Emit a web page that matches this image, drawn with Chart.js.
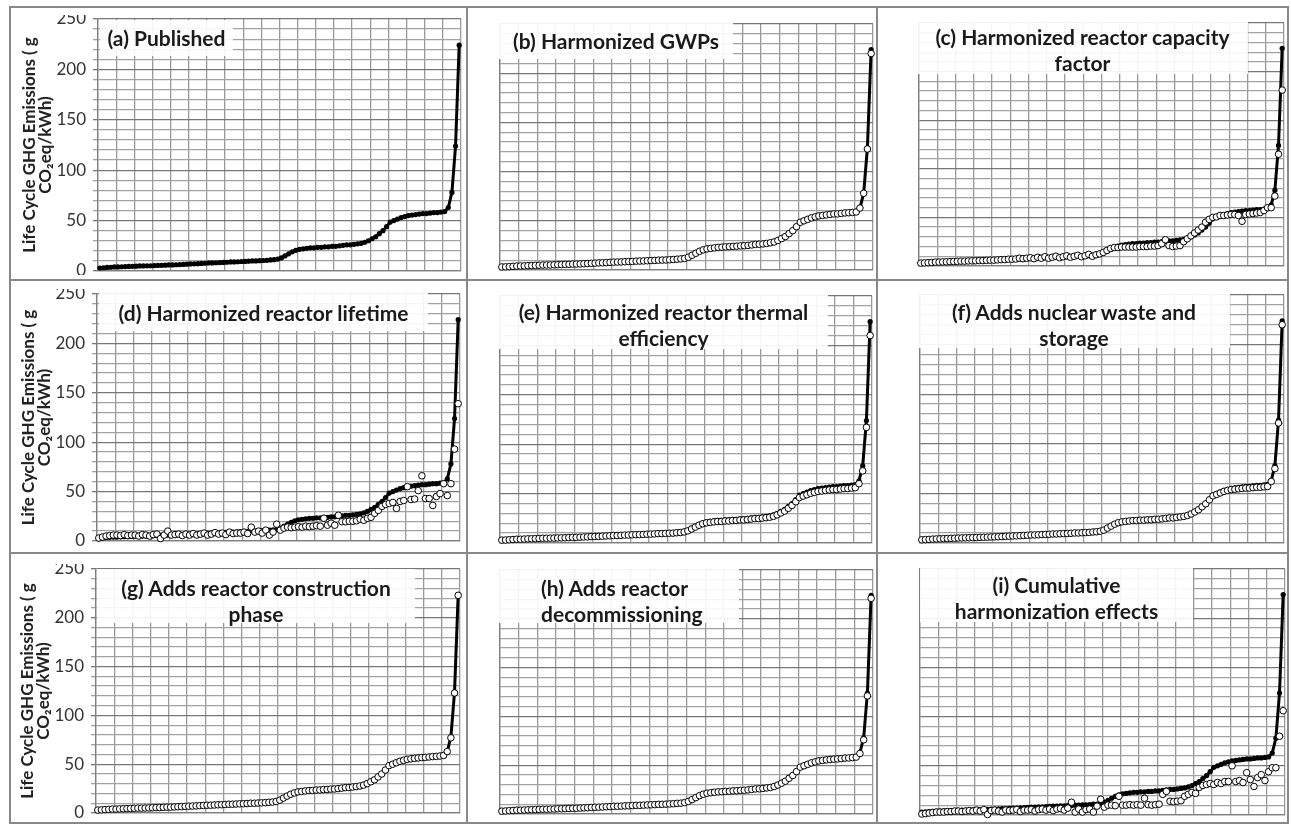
<!DOCTYPE html>
<html>
<head>
<meta charset="utf-8">
<script src="https://cdn.jsdelivr.net/npm/chart.js@4.4.1/dist/chart.umd.min.js"></script>
<style>
    body { margin: 0; background: #fff; width: 1291px; height: 827px; position: relative; overflow: hidden; }
    .panel { position: absolute; }
    .rule { position: absolute; background: #888; }
    .tbox {
        position: absolute; background: rgba(255, 255, 255, 0.9); color: #1a1a1a;
        font: bold 21px Lato, 'Open Sans', sans-serif; line-height: 26px;
        text-align: center; white-space: nowrap; box-sizing: border-box;
    }
</style>
</head>
<body>
<script>
// --- Data ---
const studyRank = Array.from({ length: 100 }, (_, i) => i + 1);
const yTickLabels = [0, 50, 100, 150, 200, 250];

const published = [
    3, 3.2, 3.5, 3.7, 4, 4, 4.2, 4.4, 4.5, 4.6,
    4.8, 5, 5, 5.1, 5.2, 5.4, 5.5, 5.6, 5.8, 6,
    6, 6.2, 6.4, 6.5, 6.8, 7, 7.1, 7.3, 7.5, 7.7,
    8, 8, 8.2, 8.4, 8.5, 8.7, 9, 9, 9.2, 9.4,
    9.5, 9.7, 10, 10, 10.2, 10.4, 10.6, 11, 11.2, 11.8,
    13, 15, 17, 19, 20.5, 21.5, 22, 22.5, 23, 23,
    23.5, 23.5, 24, 24, 24.5, 24.5, 25, 25.5, 26, 26,
    26.5, 27, 27.5, 28.5, 30, 32, 34, 37, 40, 44,
    48.5, 50, 51.5, 53, 54, 55, 55.5, 56, 56.5, 57,
    57, 57.5, 58, 58, 58.5, 59, 63, 78, 124, 224
];
const harmGWP = [
    3.1, 3.2, 3.4, 3.7, 4, 4.1, 4.2, 4.4, 4.5, 4.7,
    4.8, 5, 5.1, 5.1, 5.3, 5.4, 5.5, 5.7, 5.8, 6,
    6.1, 6.2, 6.4, 6.6, 6.8, 7, 7.2, 7.3, 7.5, 7.8,
    8, 8.1, 8.2, 8.4, 8.6, 8.7, 9, 9.1, 9.2, 9.4,
    9.6, 9.7, 10, 10.1, 10.2, 10.4, 10.7, 11, 11.3, 11.8,
    13, 15, 17, 19, 20.5, 21.5, 22, 22.5, 23, 23.2,
    23.5, 23.7, 24, 24.2, 24.5, 24.7, 25, 25.5, 26, 26.2,
    26.5, 27, 27.7, 28.5, 30, 32, 34, 37, 40, 44,
    48.5, 50, 51.5, 53, 54, 55, 55.5, 56, 56.5, 57,
    57, 57.5, 58, 58.2, 58.5, 59, 63, 78, 123, 220
];
const harmCapacity = [
    3, 3.2, 3.4, 3.6, 4, 4, 4.2, 4.3, 4.5, 4.6,
    4.8, 5, 5, 5.2, 5.3, 5.4, 5.6, 5.6, 5.8, 6,
    6, 6.3, 6.5, 6.6, 7, 7, 7.2, 8, 7.5, 8,
    8.5, 7.5, 9, 8, 9.5, 8, 9, 10, 8.5, 9.5,
    10.5, 9, 10, 11, 9.5, 10.5, 12, 10, 11.5, 12.5,
    14, 16, 18, 19, 19, 19.5, 19.5, 19.5, 19.5, 19.5,
    20, 20, 20, 20.5, 20.5, 21, 23, 27, 21, 20,
    20.5, 21, 25, 28, 31, 34, 37, 40, 45, 48,
    50, 50.5, 52, 52, 52.5, 53, 53, 52, 46, 53,
    53.5, 54, 54.5, 55, 57, 60, 60, 72, 115, 181
];
const harmLifetime = [
    3, 4, 5, 5.5, 6, 6, 5.5, 6.5, 5.5, 6,
    6, 5, 6.5, 6, 5, 6.5, 7, 2.5, 6, 10,
    6, 6.5, 7, 5.5, 7, 6, 7.5, 6, 7, 8,
    6, 7, 8.5, 7, 8, 6.5, 9, 7.5, 8, 8,
    9, 7.5, 14, 9, 10, 8, 11, 6, 9, 17,
    11, 13, 14, 13.5, 14, 14.5, 14, 15, 14.5, 15,
    15.5, 15, 23, 16, 18, 16, 26, 19.5, 19.5, 20,
    20, 20.5, 22, 21, 23, 24, 28, 31, 35, 37,
    38, 39, 33, 40, 41, 55, 42, 42.5, 51, 66,
    43, 43, 36, 45, 48, 58, 46, 58, 93, 139
];
const harmThermal = [
    2.9, 3, 3.3, 3.5, 3.8, 3.8, 4, 4.2, 4.3, 4.4,
    4.6, 4.8, 4.8, 4.9, 5, 5.1, 5.2, 5.3, 5.5, 5.7,
    5.7, 5.9, 6.1, 6.2, 6.5, 6.6, 6.7, 6.9, 7.1, 7.3,
    7.6, 7.6, 7.8, 8, 8.1, 8.3, 8.5, 8.5, 8.7, 8.9,
    9, 9.2, 9.5, 9.5, 9.7, 9.9, 10, 10.4, 10.6, 11.2,
    12.3, 14.2, 16.1, 18, 19.5, 20.4, 20.9, 21.4, 21.8, 21.8,
    22.3, 22.3, 22.8, 22.8, 23.3, 23.3, 23.7, 24.2, 24.7, 24.7,
    25.2, 25.6, 26.1, 27, 28.5, 30.4, 32.3, 35.1, 38, 41.8,
    46, 47.5, 48.9, 50.3, 51.3, 52.2, 52.7, 53.2, 53.7, 54.1,
    54.1, 54.6, 55.1, 55.1, 55.6, 56, 60, 73, 117, 210
];
const harmWaste = [
    3.2, 3.4, 3.6, 3.9, 4.1, 4.2, 4.4, 4.5, 4.7, 4.8,
    5, 5.1, 5.2, 5.3, 5.4, 5.5, 5.7, 5.8, 5.9, 6.1,
    6.2, 6.3, 6.5, 6.7, 6.9, 7.1, 7.2, 7.4, 7.6, 7.8,
    8.1, 8.1, 8.3, 8.5, 8.6, 8.8, 9.1, 9.1, 9.3, 9.5,
    9.6, 9.8, 10.1, 10.1, 10.3, 10.5, 10.7, 11.1, 11.3, 11.9,
    13, 15, 17, 19, 20.5, 21.3, 21.8, 22.2, 22.6, 22.6,
    23, 23, 23.4, 23.4, 23.9, 23.9, 24.3, 24.8, 25.3, 25.3,
    25.8, 26.3, 26.8, 27.8, 29.3, 31.3, 33.5, 36.5, 39.5, 43.5,
    47.5, 49, 50.5, 52, 53, 53.8, 54.2, 54.6, 55, 55.4,
    55.4, 55.8, 56.2, 56.2, 56.6, 57, 62, 75, 121, 220
];
const harmConstruction = [
    3, 3.2, 3.5, 3.7, 4, 4, 4.2, 4.4, 4.5, 4.6,
    4.8, 5, 5, 5.1, 5.2, 5.4, 5.5, 5.6, 5.8, 6,
    6, 6.2, 6.4, 6.5, 6.8, 7, 7.1, 7.3, 7.5, 7.7,
    8, 8, 8.2, 8.4, 8.5, 8.7, 9, 9, 9.2, 9.4,
    9.5, 9.7, 10, 10, 10.2, 10.4, 10.6, 11, 11.2, 11.8,
    13.2, 15.3, 17.3, 19.2, 20.6, 21.6, 22.1, 22.6, 23, 23.1,
    23.5, 23.6, 24, 24.1, 24.5, 24.6, 25, 25.5, 26, 26.1,
    26.6, 27.1, 27.7, 28.6, 30.1, 32, 34, 37, 40, 44,
    48.5, 50, 51.5, 53, 54, 55, 55.5, 56, 56.4, 56.8,
    57, 57.4, 57.8, 58, 58.4, 59, 63, 77, 123, 223
];
const harmDecommission = [
    2.9, 3.1, 3.4, 3.6, 3.9, 3.9, 4.1, 4.3, 4.4, 4.5,
    4.7, 4.9, 4.9, 5, 5.1, 5.3, 5.4, 5.5, 5.7, 5.9,
    5.9, 6.1, 6.3, 6.4, 6.7, 6.9, 7, 7.2, 7.4, 7.6,
    7.9, 7.9, 8.1, 8.3, 8.4, 8.6, 8.9, 8.9, 9.1, 9.3,
    9.4, 9.6, 9.9, 9.9, 10.1, 10.3, 10.5, 10.9, 11.1, 11.7,
    12.9, 14.8, 16.8, 18.8, 20.3, 21.3, 21.8, 22.3, 22.7, 22.8,
    23.2, 23.3, 23.7, 23.8, 24.2, 24.3, 24.7, 25.2, 25.7, 25.8,
    26.2, 26.7, 27.2, 28.2, 29.7, 31.6, 33.6, 36.6, 39.5, 43.5,
    48, 49.4, 50.9, 52.4, 53.4, 54.4, 54.9, 55.4, 55.8, 56.2,
    56.4, 56.8, 57.3, 57.4, 57.8, 58.3, 62, 76, 121, 221
];
const harmCumulative = [
    1, 1.5, 2, 2.5, 3, 3, 3, 3.5, 3.5, 4,
    4, 3.5, 4, 4.5, 4, 5, 4, 5.5, 0.5, 4.5,
    5, 4, 3, 5, 4.5, 5, 5.5, 3.5, 5, 5,
    5.5, 4, 5.5, 6, 5, 6, 4.5, 6, 6.5, 5,
    7, 13, 3, 6, 3, 5.5, 6, 3, 9, 16,
    8, 10, 10, 9.5, 19, 10, 10, 10.5, 10, 10.5,
    10, 17, 10.5, 10, 10.5, 11, 21, 24, 14, 13.5,
    14, 14.5, 19, 21, 23, 22, 28, 30, 31, 32,
    31, 33, 32, 34, 34, 50, 34, 35, 33, 43,
    36, 29, 38, 41, 35, 44, 48, 48, 80, 106
];

const yAxisTitle = ['Life Cycle GHG Emissions ( g', 'CO\u2082eq/kWh)'];

// --- Layout: plot area [left, top, right, bottom], title box [left, top, width, height], first line centre y ---
const panels = [
    { rect: [98, 18, 462, 272], col: 1, harm: null, title: ['(a) Published'], box: [100, 20, 133, 36], line1: 38 },
    { rect: [498, 22, 875, 272], col: 2, harm: harmGWP, title: ['(b) Harmonized GWPs'], box: [499, 23, 234, 36], line1: 41 },
    { rect: [917, 21, 1286, 268], col: 3, harm: harmCapacity, title: ['(c) Harmonized reactor capacity', 'factor'], box: [917, 22, 331, 52], line1: 37 },
    { rect: [97, 292, 462, 543], col: 1, harm: harmLifetime, title: ['(d) Harmonized reactor lifetime'], box: [99, 293, 329, 38], line1: 313 },
    { rect: [498, 294, 874, 545], col: 2, harm: harmThermal, title: ['(e) Harmonized reactor thermal', 'efficiency'], box: [499, 295, 329, 54], line1: 312 },
    { rect: [918, 293, 1286, 545], col: 3, harm: harmWaste, title: ['(f) Adds nuclear waste and', 'storage'], box: [918, 294, 312, 54], line1: 312 },
    { rect: [96, 567, 462, 815], col: 1, harm: harmConstruction, title: ['(g) Adds reactor construction', 'phase'], box: [97, 569, 318, 54], line1: 588 },
    { rect: [498, 568, 875, 816], col: 2, harm: harmDecommission, title: ['(h) Adds reactor', 'decommissioning'], box: [499, 569, 240, 54], line1: 588, alignLeft: 42 },
    { rect: [918, 567, 1287, 817], col: 3, harm: harmCumulative, title: ['(i) Cumulative', 'harmonization effects'], box: [920, 568, 273, 54], line1: 585 }
];

// frame rules [left, top, width, height]
const rules = [
    [9, 6, 1280, 2], [9, 6, 2, 818], [1287, 6, 2, 818], [9, 822, 1280, 2],
    [9, 279, 1280, 2], [9, 552, 1280, 2], [466, 6, 2, 818], [876, 6, 2, 818]
];

rules.forEach(([l, t, w, h]) => {
    const d = document.createElement('div');
    d.className = 'rule';
    Object.assign(d.style, { left: l + 'px', top: t + 'px', width: w + 'px', height: h + 'px' });
    document.body.appendChild(d);
});

const toPoints = values => values.map((v, i) => ({ x: studyRank[i] - 0.5, y: v }));

panels.forEach(p => {
    const [L, T, R, B] = p.rect;
    const padL = p.col === 1 ? 88 : 3;
    const pad = 3;
    const w = R - L + padL + pad;
    const h = B - T + pad * 2;

    const wrap = document.createElement('div');
    wrap.className = 'panel';
    Object.assign(wrap.style, { left: (L - padL) + 'px', top: (T - pad) + 'px', width: w + 'px', height: h + 'px' });
    const canvas = document.createElement('canvas');
    canvas.width = w;
    canvas.height = h;
    wrap.appendChild(canvas);
    document.body.appendChild(wrap);

    const datasets = [{
        data: toPoints(published),
        borderColor: '#000',
        borderWidth: 3,
        pointRadius: 2.6,
        pointBackgroundColor: '#000',
        pointBorderWidth: 0,
        tension: 0,
        clip: 5,
        order: 2
    }];
    if (p.harm) {
        datasets.push({
            data: toPoints(p.harm),
            showLine: false,
            pointRadius: 3.3,
            pointBackgroundColor: '#fff',
            pointBorderColor: '#000',
            pointBorderWidth: 1,
            clip: 5,
            order: 1
        });
    }

    const first = p.col === 1;
    new Chart(canvas, {
        type: 'line',
        data: { datasets },
        options: {
            responsive: false,
            animation: false,
            events: [],
            layout: { padding: { left: 0, top: pad, right: pad, bottom: pad } },
            plugins: { legend: { display: false }, tooltip: { enabled: false } },
            scales: {
                x: {
                    type: 'linear', min: 0, max: 100,
                    ticks: { stepSize: 5, display: false },
                    grid: { color: '#999', lineWidth: 1.3, drawTicks: false },
                    border: { color: '#7f7f7f', width: 1.3 },
                    afterFit: s => { s.height = 0; s.paddingLeft = 0; s.paddingRight = 0; }
                },
                y: {
                    min: 0, max: 250,
                    ticks: {
                        stepSize: 10, autoSkip: false, display: first, padding: 7,
                        color: '#333', font: { family: 'Lato', size: 17 },
                        callback: v => yTickLabels.includes(v) ? v : ''
                    },
                    grid: {
                        color: c => c.tick && c.tick.value % 50 === 0 ? '#777' : '#a2a2a2',
                        lineWidth: 1.3, drawTicks: first, tickLength: 5
                    },
                    border: { color: '#7f7f7f', width: 1.3 },
                    title: {
                        display: first, text: yAxisTitle, color: '#222',
                        font: { family: 'Lato', size: 17, weight: 'bold', lineHeight: 0.95 },
                        padding: { top: 11, bottom: 0 }
                    },
                    afterFit: s => { s.width = padL; s.paddingTop = 0; s.paddingBottom = 0; }
                }
            }
        }
    });

    const [bl, bt, bw, bh] = p.box;
    const tb = document.createElement('div');
    tb.className = 'tbox';
    Object.assign(tb.style, {
        left: bl + 'px', top: bt + 'px', width: bw + 'px', height: bh + 'px',
        paddingTop: (p.line1 - 13 - bt) + 'px'
    });
    if (p.alignLeft) {
        tb.style.textAlign = 'left';
        tb.style.paddingLeft = p.alignLeft + 'px';
    }
    tb.innerHTML = p.title.join('<br>');
    document.body.appendChild(tb);
});
</script>
</body>
</html>
